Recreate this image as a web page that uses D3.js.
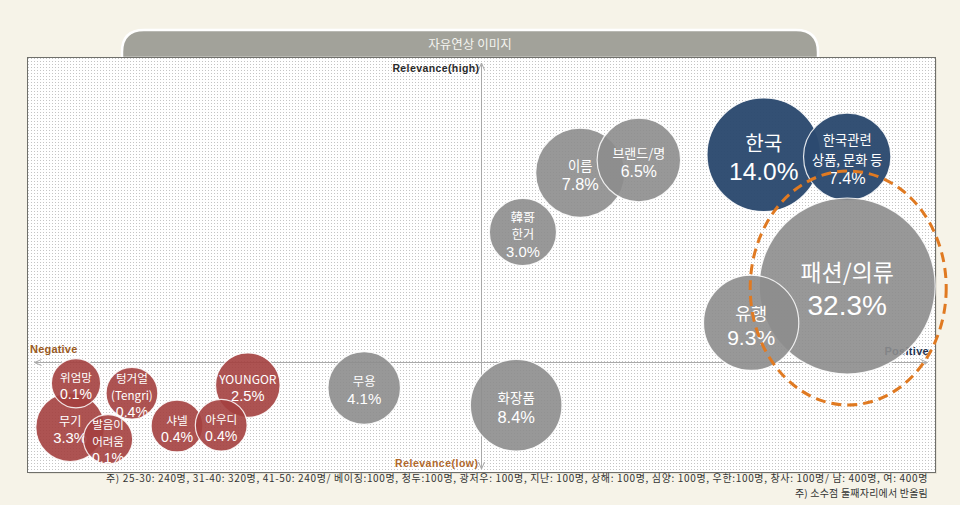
<!DOCTYPE html>
<html><head><meta charset="utf-8">
<script src="https://cdn.jsdelivr.net/npm/d3@7"></script>
<style>
html,body{margin:0;padding:0;background:#f6f3e8;}
svg{display:block;font-family:"Noto Sans CJK KR","Noto Sans",sans-serif;}
</style></head>
<body>
<svg id="chart" width="960" height="505"></svg>
<script>
// ---- data ----
const title = "자유연상 이미지";
const labels = ["무기","위엄망","텅거얼\n(Tengri)","발음이\n어려움","YOUNGOR","샤넬","아우디","무용","화장품","韓哥\n한거","이름","브랜드/명","한국","한국관련\n상품, 문화 등","패션/의류","유행"];
const shares = [3.3,0.1,0.4,0.1,2.5,0.4,0.4,4.1,8.4,3.0,7.8,6.5,14.0,7.4,32.3,9.3];
const positivity = [-91.1,-89.8,-77.4,-82.7,-51.7,-67.4,-57.6,-25.9,7.8,9.3,22,35,62.7,81.2,81.2,59.9];
const relevance = [-16.3,-5.3,-7.8,-19.3,-5.8,-16,-15.8,-6.5,-10.8,32.5,47.3,50.5,51.8,51.3,19,9.8];
const groups = ["neg","neg","neg","neg","neg","neg","neg","neu","neu","neu","neu","neu","key","key","neu","neu"];
const highlighted = ["패션/의류"];
const axisLabels = {top:"Relevance(high)", bottom:"Relevance(low)", left:"Negative", right:"Positive"};
const notes = ["주) 25-30:  240명, 31-40:  320명, 41-50:  240명/ 베이징:100명, 청두:100명, 광저우: 100명, 지난: 100명, 상해: 100명, 심양: 100명, 우한:100명, 창사: 100명/ 남: 400명, 여: 400명",
               "주) 소수점 둘째자리에서 반올림"];

// ---- styles ----
const colors = {neg:"#a4403f", neu:"#8d8d8d", key:"#2c4a6f"};
const digitFont = "'Liberation Sans',Arial,sans-serif";

const svg = d3.select("#chart");
const frame = {x0:27, x1:935, y0:57, y1:472};

const x = d3.scaleLinear().domain([-100,100]).range([30,932]);
const y = d3.scaleLinear().domain([-25,75]).range([462,62]);
const r = d3.scalePow().exponent(0.8).domain([0,32.3]).range([24,88]);
const fs = d3.scaleLinear().domain([24,36,46,47.5,58,88]).range([14,15,16.5,21,25,28]).clamp(true);

const defs = svg.append("defs");
const pat = defs.append("pattern").attr("id","dots").attr("width",3).attr("height",3).attr("patternUnits","userSpaceOnUse");
pat.append("rect").attr("width",3).attr("height",3).attr("fill","#ffffff");
pat.append("rect").attr("x",1).attr("y",1).attr("width",1).attr("height",1).attr("fill","#c4c4c4");

// header tab
const hx0 = 122, hx1 = 818, hy0 = 30, hy1 = 58, hr = 22;
svg.append("path")
  .attr("d",`M${hx0},${hy1} L${hx0},${hy0+hr} Q${hx0},${hy0} ${hx0+hr},${hy0} L${hx1-hr},${hy0} Q${hx1},${hy0} ${hx1},${hy0+hr} L${hx1},${hy1} Z`)
  .attr("fill","#a2a29a").attr("stroke","#ffffff").attr("stroke-width",2.5);
svg.append("text").attr("x",470).attr("y",49).attr("text-anchor","middle")
  .attr("font-size",12.5).attr("fill","#f4f4f0").text(title);

// frame shadow + plot area
svg.append("rect").attr("x",frame.x0+2).attr("y",frame.y0+2).attr("width",frame.x1-frame.x0).attr("height",frame.y1-frame.y0)
  .attr("fill","#e6e2d6");
svg.append("rect").attr("x",frame.x0+0.5).attr("y",frame.y0+0.5).attr("width",frame.x1-frame.x0).attr("height",frame.y1-frame.y0)
  .attr("fill","url(#dots)").attr("stroke","#6f6f6a").attr("stroke-width",1);

// axes
const ax = svg.append("g").attr("stroke","#a9a9a9").attr("fill","none").attr("stroke-width",1);
const cx0 = Math.round(x(0))+0.5, cy0 = Math.round(y(0))+0.5;
ax.append("line").attr("x1",x(-99)).attr("x2",x(99)).attr("y1",cy0).attr("y2",cy0);
ax.append("line").attr("x1",cx0).attr("x2",cx0).attr("y1",63).attr("y2",469);
ax.append("path").attr("d",`M${x(-99)+7},${cy0-3} L${x(-99)},${cy0} L${x(-99)+7},${cy0+3}`);
ax.append("path").attr("d",`M${x(99)-7},${cy0-3} L${x(99)},${cy0} L${x(99)-7},${cy0+3}`);
ax.append("path").attr("d",`M${cx0-3},70 L${cx0},63 L${cx0+3},70`);
ax.append("path").attr("d",`M${cx0-3},462 L${cx0},469 L${cx0+3},462`);

const lab = svg.append("g").attr("font-family",digitFont).attr("font-weight","bold").attr("font-size",10.5);
lab.append("text").attr("x",cx0-2).attr("y",72).attr("text-anchor","end").attr("fill","#2b2b2b").attr("letter-spacing",0.4).text(axisLabels.top);
lab.append("text").attr("x",cx0-3).attr("y",467).attr("text-anchor","end").attr("fill","#b0682a").attr("letter-spacing",0.5).text(axisLabels.bottom);
lab.append("text").attr("x",30).attr("y",353).attr("fill","#9a5a22").attr("font-size",11).attr("letter-spacing",0.2).text(axisLabels.left);
lab.append("text").attr("x",929).attr("y",355).attr("text-anchor","end").attr("fill","#1e3350").attr("font-size",11).attr("letter-spacing",0.3).text(axisLabels.right);

// bubbles
const data = labels.map((l,i)=>({label:l, v:shares[i], px:positivity[i], py:relevance[i], g:groups[i]}));
const bub = svg.append("g").selectAll("g").data(data).join("g")
  .attr("transform",d=>`translate(${x(d.px)},${y(d.py)})`);
bub.append("circle").attr("r",d=>r(d.v))
  .attr("fill",d=>colors[d.g]).attr("fill-opacity",d=>d.g==="key"?0.97:0.9)
  .attr("stroke","#ffffff").attr("stroke-width",1.2).attr("stroke-opacity",0.85);

const fmt = d3.format(".1f");
bub.each(function(d){
  const g = d3.select(this);
  const rr = r(d.v);
  const names = d.label.split("\n");
  const n = names.length + 1;
  let f = fs(rr);
  const layout = (f)=>{
    const lh = 1.2*f;
    g.selectAll("text.lbl").remove();
    names.forEach((s,k)=>{
      g.append("text").attr("class","lbl").attr("text-anchor","middle").attr("fill","#ffffff")
        .attr("font-size",0.82*f).attr("x",0)
        .attr("y",(k-(n-1)/2)*lh + 0.36*f + 2).text(s);
    });
    g.append("text").attr("class","lbl").attr("text-anchor","middle").attr("fill","#ffffff")
      .attr("font-family",digitFont).attr("font-size",f).attr("x",0)
      .attr("y",((n-1)/2)*lh + 0.36*f + 2).text(fmt(d.v)+"%");
  };
  layout(f);
  const w = d3.max(g.selectAll("text.lbl").nodes(), nd=>nd.getComputedTextLength());
  const maxW = 1.92*rr;
  if (w > maxW) layout(f*maxW/w);
});

// highlight ellipse
data.filter(d=>highlighted.includes(d.label)).forEach(d=>{
  svg.append("ellipse").attr("cx",x(d.px)+1).attr("cy",y(d.py)+2)
    .attr("rx",r(d.v)+10).attr("ry",r(d.v)+29)
    .attr("fill","none").attr("stroke","#e07a22").attr("stroke-width",3)
    .attr("stroke-dasharray","10,6");
});

// notes
svg.append("g").attr("font-size",10).attr("fill","#333").attr("text-anchor","end")
  .selectAll("text").data(notes).join("text")
  .attr("x",928).attr("y",(d,i)=>482+i*15)
  .attr("letter-spacing",(d,i)=>i===0?0.65:0.2).text(d=>d);
</script>
</body></html>
